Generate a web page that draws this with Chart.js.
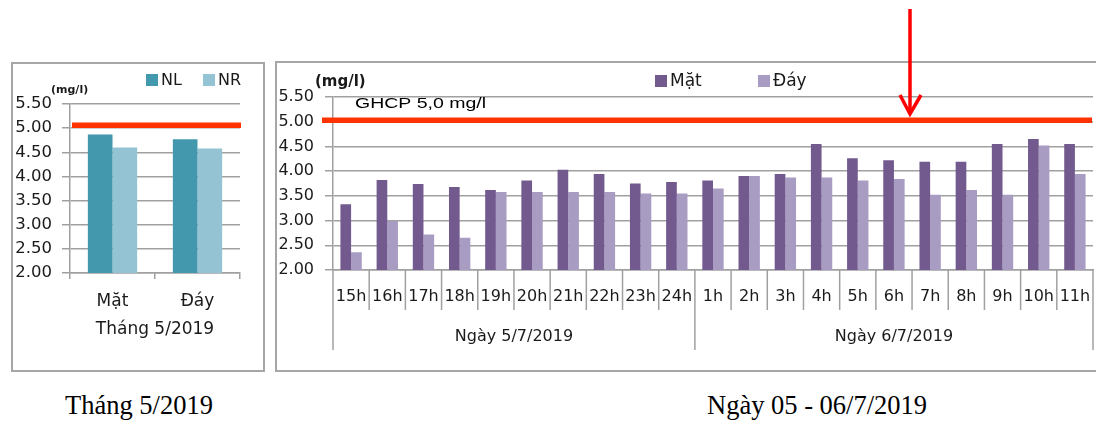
<!DOCTYPE html>
<html>
<head>
<meta charset="utf-8">
<script src="https://cdn.jsdelivr.net/npm/chart.js@4.4.1/dist/chart.umd.min.js"></script>
<style>
  body { margin: 0; background: #fff; width: 1096px; height: 421px; position: relative; overflow: hidden; }
  .box { position: absolute; border: 2px solid #a6a6a6; box-sizing: border-box; background: #fff; }
  .box canvas { position: absolute; left: 0; top: 0; }
  .caption { position: absolute; font-family: 'Liberation Serif', 'Times New Roman', serif; font-size: 26.5px; line-height: 26px; color: #000; white-space: nowrap; }
  #arrow { position: absolute; left: 0; top: 0; pointer-events: none; }
</style>
</head>
<body>
<div class="box" style="left:11px;top:62px;width:254px;height:310px;"><canvas id="month-chart" width="250" height="306"></canvas></div>
<div class="box" style="left:275px;top:61px;width:826px;height:311px;"><canvas id="hour-chart" width="822" height="307"></canvas></div>
<div class="caption" style="left:65px;top:392px;">Tháng 5/2019</div>
<div class="caption" style="left:707px;top:392px;">Ngày 05 - 06/7/2019</div>
<svg id="arrow" width="1096" height="421">
  <line x1="910" y1="9" x2="910" y2="113" stroke="#ff0000" stroke-width="3.5"/>
  <polyline points="900,95 910,114 921,95" fill="none" stroke="#ff0000" stroke-width="3.5"/>
</svg>
<script>
// Tháng 5/2019 (left chart)
const monthCategories = ['Mặt', 'Đáy'];
const monthNL = [4.87, 4.77];
const monthNR = [4.60, 4.58];

// Ngày 05 - 06/7/2019 (right chart)
const hourLabels = ['15h', '16h', '17h', '18h', '19h', '20h', '21h', '22h', '23h', '24h',
                    '1h', '2h', '3h', '4h', '5h', '6h', '7h', '8h', '9h', '10h', '11h'];
const dayGroups = ['Ngày 5/7/2019', 'Ngày 6/7/2019'];
const dayGroupSizes = [10, 11];
const hourMat = [3.33, 3.82, 3.74, 3.68, 3.62, 3.81, 4.03, 3.94, 3.75, 3.78,
                 3.81, 3.90, 3.94, 4.55, 4.26, 4.22, 4.19, 4.19, 4.55, 4.65, 4.55];
const hourDay = [2.36, 2.99, 2.72, 2.65, 3.58, 3.58, 3.58, 3.58, 3.55, 3.55,
                 3.65, 3.90, 3.87, 3.87, 3.81, 3.84, 3.52, 3.62, 3.52, 4.52, 3.94];

// y axis
const yMin = 2, yMax = 5.5, yStep = 0.5;
// GHCP 5,0 mg/l line, as drawn in each panel
const limitMonth = 5.06;
const limitHour = 5.03;

Chart.defaults.font.family = "'DejaVu Sans', sans-serif";
Chart.defaults.color = '#1a1a1a';

const gridGray = '#a0a0a0';
const redLine = '#ff3300';

function legendItem(ctx, x, y, color, text) {
    ctx.fillStyle = color;
    ctx.fillRect(x, y - 6, 12, 12);
    ctx.fillStyle = '#1a1a1a';
    ctx.textBaseline = 'middle';
    ctx.textAlign = 'left';
    ctx.fillText(text, x + 15, y + 1);
}

// ---- left chart ----
const monthDecor = {
    id: 'monthDecor',
    afterDatasetsDraw(chart) {
        const { ctx, chartArea: a, scales: { x, y } } = chart;
        ctx.save();
        // limit line
        ctx.strokeStyle = redLine;
        ctx.lineWidth = 5.5;
        const ly = y.getPixelForValue(limitMonth);
        ctx.beginPath();
        ctx.moveTo(a.left + 2, ly);
        ctx.lineTo(a.right + 1, ly);
        ctx.stroke();

        // legend
        ctx.font = "16px 'DejaVu Sans'";
        legendItem(ctx, 133, 16, '#4398ae', 'NL');
        legendItem(ctx, 190, 16, '#94c4d4', 'NR');

        // unit
        ctx.font = "bold 11px 'DejaVu Sans'";
        ctx.fillStyle = '#1a1a1a';
        ctx.textAlign = 'left';
        ctx.textBaseline = 'middle';
        ctx.fillText('(mg/l)', 38, 26);

        // group label
        ctx.font = "17px 'DejaVu Sans'";
        ctx.textAlign = 'center';
        ctx.fillText('Tháng 5/2019', (a.left + a.right) / 2, 266);
        ctx.restore();
    }
};

new Chart(document.getElementById('month-chart').getContext('2d'), {
    type: 'bar',
    data: {
        labels: monthCategories,
        datasets: [{
            label: 'NL',
            data: monthNL,
            backgroundColor: '#4398ae',
            categoryPercentage: 0.58,
            barPercentage: 1
        }, {
            label: 'NR',
            data: monthNR,
            backgroundColor: '#94c4d4',
            categoryPercentage: 0.58,
            barPercentage: 1
        }]
    },
    options: {
        responsive: false,
        animation: false,
        layout: { padding: { top: 40, right: 23, left: 0, bottom: 0 } },
        plugins: { legend: { display: false }, tooltip: { enabled: false } },
        scales: {
            x: {
                afterFit: (s) => { s.height = 97; s.paddingLeft = 0; s.paddingRight = 0; },
                grid: { drawOnChartArea: false, drawTicks: true, tickLength: 6, color: gridGray, lineWidth: 1.5, offset: true },
                border: { color: gridGray, width: 1.5 },
                ticks: { font: { size: 17 }, padding: 12 }
            },
            y: {
                min: yMin,
                max: yMax,
                afterFit: (s) => { s.width = 57; },
                grid: { color: gridGray, lineWidth: 1.5, tickLength: 8 },
                border: { color: gridGray, width: 1.5 },
                ticks: { stepSize: yStep, font: { size: 16.5 }, padding: 10, callback: (v) => v.toFixed(2) }
            }
        }
    },
    plugins: [monthDecor]
});

// ---- right chart ----
const hourDecor = {
    id: 'hourDecor',
    afterDatasetsDraw(chart) {
        const { ctx, chartArea: a, scales: { x, y } } = chart;
        ctx.save();

        // separators between hours and between days
        const half = (x.getPixelForValue(1) - x.getPixelForValue(0)) / 2;
        const bounds = [0];
        let acc = 0;
        dayGroupSizes.forEach((n) => { acc += n; bounds.push(acc); });
        ctx.strokeStyle = gridGray;
        ctx.lineWidth = 1.5;
        for (let i = 0; i <= hourLabels.length; i++) {
            const px = x.getPixelForValue(i) - half;
            const len = bounds.includes(i) ? 80 : 40;
            ctx.beginPath();
            ctx.moveTo(px, a.bottom);
            ctx.lineTo(px, a.bottom + len);
            ctx.stroke();
        }

        // day labels
        ctx.font = "16px 'DejaVu Sans'";
        ctx.fillStyle = '#1a1a1a';
        ctx.textAlign = 'center';
        ctx.textBaseline = 'middle';
        dayGroups.forEach((g, k) => {
            const cx = (x.getPixelForValue(bounds[k]) + x.getPixelForValue(bounds[k + 1] - 1)) / 2;
            ctx.fillText(g, cx, a.bottom + 67);
        });

        // limit line
        ctx.strokeStyle = redLine;
        ctx.lineWidth = 5.5;
        const ly = y.getPixelForValue(limitHour);
        ctx.beginPath();
        ctx.moveTo(a.left - 11, ly);
        ctx.lineTo(a.right - 1, ly);
        ctx.stroke();

        // GHCP text (wide, like the source)
        ctx.save();
        ctx.font = "15px 'Liberation Sans', Arial, sans-serif";
        ctx.fillStyle = '#000';
        ctx.textAlign = 'left';
        ctx.textBaseline = 'alphabetic';
        ctx.translate(78, 45);
        ctx.scale(1.3, 1);
        ctx.fillText('GHCP 5,0 mg/l', 0, 0);
        ctx.restore();

        // legend
        ctx.font = "17px 'DejaVu Sans'";
        legendItem(ctx, 378, 18, '#725a8f', 'Mặt');
        legendItem(ctx, 481, 18, '#a99cc2', 'Đáy');

        // unit
        ctx.font = "bold 15px 'DejaVu Sans'";
        ctx.fillStyle = '#1a1a1a';
        ctx.textAlign = 'left';
        ctx.textBaseline = 'middle';
        ctx.fillText('(mg/l)', 38, 19);
        ctx.restore();
    }
};

new Chart(document.getElementById('hour-chart').getContext('2d'), {
    type: 'bar',
    data: {
        labels: hourLabels,
        datasets: [{
            label: 'Mặt',
            data: hourMat,
            backgroundColor: '#725a8f',
            categoryPercentage: 0.59,
            barPercentage: 1
        }, {
            label: 'Đáy',
            data: hourDay,
            backgroundColor: '#a99cc2',
            categoryPercentage: 0.59,
            barPercentage: 1
        }]
    },
    options: {
        responsive: false,
        animation: false,
        layout: { padding: { top: 34, right: 6, left: 0, bottom: 0 } },
        plugins: { legend: { display: false }, tooltip: { enabled: false } },
        scales: {
            x: {
                afterFit: (s) => { s.height = 100; s.paddingLeft = 0; s.paddingRight = 0; },
                grid: { display: false, drawTicks: false },
                border: { color: gridGray, width: 1.5 },
                ticks: { font: { size: 16 }, padding: 17, autoSkip: false, maxRotation: 0 }
            },
            y: {
                min: yMin,
                max: yMax,
                afterFit: (s) => { s.width = 56; },
                grid: { color: gridGray, lineWidth: 1.5, tickLength: 8 },
                border: { color: gridGray, width: 1.5 },
                ticks: { stepSize: yStep, font: { size: 16 }, padding: 11, callback: (v) => v.toFixed(2) }
            }
        }
    },
    plugins: [hourDecor]
});
</script>
</body>
</html>
